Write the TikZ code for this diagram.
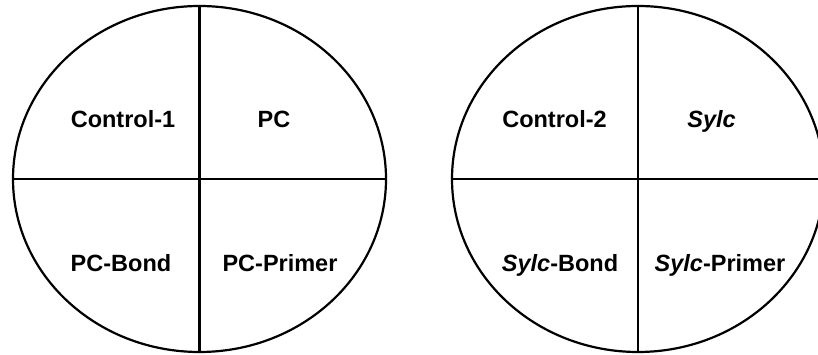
\documentclass[tikz,border=0pt]{standalone}
\usepackage{fontspec}
\setmainfont{Liberation Sans}
\usetikzlibrary{shapes.geometric}
\begin{document}
\begin{tikzpicture}[x=1pt, y=1pt,
    dish/.style={draw, ellipse, line width=2.2pt, inner sep=0pt},
    cut/.style={line width=2.2pt},
    lbl/.style={anchor=base, inner sep=0pt, font=\fontsize{23.5}{27}\selectfont\bfseries}]
\useasboundingbox (0, 0) rectangle (818, 355);
% left dish
\node[dish, minimum width=373pt, minimum height=346pt] (dishA) at (199.5, 176) {};
\draw[cut] (dishA.north) -- (dishA.south);
\draw[cut] (dishA.west) -- (dishA.east);
\node[lbl] (ctrlA) at (123, 227) {Control-1};
\node[lbl] (pc) at (274, 227) {PC};
\node[lbl] (pcBond) at (121, 83) {PC-Bond};
\node[lbl] (pcPrimer) at (280, 83) {PC-Primer};
% right dish
\node[dish, minimum width=372pt, minimum height=346pt] (dishB) at (638, 176) {};
\draw[cut] (dishB.north) -- (dishB.south);
\draw[cut] (dishB.west) -- (dishB.east);
\node[lbl] (ctrlB) at (554.5, 227) {Control-2};
\node[lbl] (sylc) at (711.5, 227) {\textit{Sylc}};
\node[lbl] (sylcBond) at (560, 83) {\textit{Sylc}-Bond};
\node[lbl] (sylcPrimer) at (720, 83) {\textit{Sylc}-Primer};
\end{tikzpicture}
\end{document}
